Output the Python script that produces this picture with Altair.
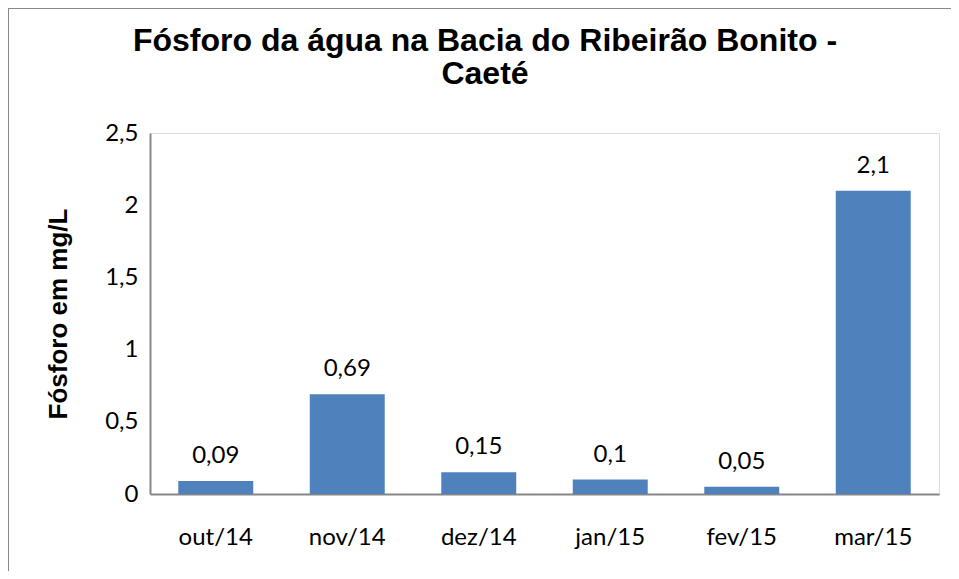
import altair as alt
import pandas as pd

months = ["out/14", "nov/14", "dez/14", "jan/15", "fev/15", "mar/15"]
values = [0.09, 0.69, 0.15, 0.1, 0.05, 2.1]
labels = ["0,09", "0,69", "0,15", "0,1", "0,05", "2,1"]
y_ticks = [0, 0.5, 1, 1.5, 2, 2.5]
title_lines = ["Fósforo da água na Bacia do Ribeirão Bonito -", "Caeté"]
y_title = "Fósforo em mg/L"

df = pd.DataFrame({"mes": months, "valor": values, "rotulo": labels})

W, H = 789, 361
LABEL_FONT = "Lato"
LABEL_SIZE = 24

base = alt.Chart(df).encode(
    x=alt.X(
        "mes:N",
        sort=months,
        scale=alt.Scale(paddingInner=0.43, paddingOuter=0.215),
        axis=alt.Axis(
            title=None,
            labelAngle=0,
            ticks=False,
            labelPadding=31,
            labelFont=LABEL_FONT,
            labelFontSize=LABEL_SIZE,
            labelColor="#000000",
            domainColor="#868686",
            domainWidth=2,
        ),
    ),
    y=alt.Y(
        "valor:Q",
        scale=alt.Scale(domain=[0, 2.5], nice=False),
        axis=alt.Axis(
            title=y_title,
            values=y_ticks,
            labelExpr="replace(toString(datum.value), '.', ',')",
            grid=False,
            ticks=False,
            labelPadding=12,
            labelFont=LABEL_FONT,
            labelFontSize=LABEL_SIZE,
            labelColor="#000000",
            domainColor="#868686",
            domainWidth=2,
            titleFont="Liberation Sans",
            titleFontSize=26,
            titleFontWeight="bold",
            titleColor="#000000",
            titleX=-92,
            titleY=H / 2,
            titleAngle=270,
            titleAlign="center",
            titleBaseline="middle",
        ),
    ),
)

bars = base.mark_bar(color="#4F81BD")
text = base.mark_text(
    baseline="middle", dy=-25, font=LABEL_FONT, fontSize=LABEL_SIZE, color="#000000"
).encode(text="rotulo:N")

one_row = pd.DataFrame({"f": [0]})

frame = alt.Chart(one_row).mark_rect(
    fill=None, stroke="#898989", strokeWidth=2
).encode(
    x=alt.value(-142),
    x2=alt.value(W + 40),
    y=alt.value(-125),
    y2=alt.value(H + 120),
)

title = alt.Chart(one_row).mark_text(
    font="Liberation Sans",
    fontSize=32,
    fontWeight="bold",
    color="#000000",
    align="center",
    baseline="middle",
    lineHeight=33,
).encode(
    x=alt.value(335),
    y=alt.value(-92),
    text=alt.value(title_lines),
)

chart = (
    alt.layer(frame, bars, text, title)
    .properties(
        width=W,
        height=H,
        autosize=alt.AutoSizeParams(type="none"),
        padding={"left": 142, "top": 125, "right": 12, "bottom": 77},
    )
    .configure_view(stroke=None)
    .configure(background="white")
)

chart.save("out.html", embed_options={"renderer": "svg", "actions": False})
